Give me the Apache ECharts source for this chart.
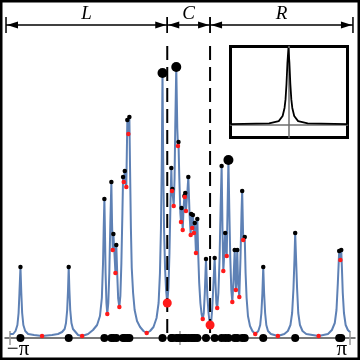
<!DOCTYPE html>
<html>
<head>
<meta charset="utf-8">
<script src="https://cdn.jsdelivr.net/npm/echarts@6/dist/echarts.min.js"></script>
<style>
  html, body { margin: 0; padding: 0; background: #fff; }
  #chart { width: 360px; height: 360px; }
</style>
</head>
<body>
<div id="chart"></div>
<script>
// x is in units of pi, y is the curve height
const curve = [
  [-1.000,4],[-0.982,4],[-0.968,7],[-0.957,13],[-0.950,25],[-0.945,45],[-0.939,71],[-0.934,45],[-0.929,25],
  [-0.922,13],[-0.911,7],[-0.894,4],[-0.859,3],[-0.812,2],[-0.753,3],[-0.718,4],[-0.694,6],[-0.679,9],
  [-0.671,15],[-0.664,28],[-0.659,48],[-0.655,71],[-0.651,48],[-0.646,28],[-0.639,15],[-0.630,9],[-0.615,6],
  [-0.600,3],[-0.576,2],[-0.541,4],[-0.512,8],[-0.488,13],[-0.471,22],[-0.460,40],[-0.453,75],[-0.449,110],
  [-0.445,139],[-0.442,110],[-0.438,65],[-0.433,35],[-0.428,24],[-0.422,35],[-0.416,65],[-0.410,115],
  [-0.404,156],[-0.400,115],[-0.396,88],[-0.392,104],[-0.386,85],[-0.380,65],[-0.375,93],[-0.369,62],
  [-0.364,40],[-0.357,31],[-0.351,42],[-0.345,75],[-0.339,125],[-0.335,161],[-0.331,156],[-0.325,167],
  [-0.321,155],[-0.316,151],[-0.310,218],[-0.304,204],[-0.298,221],[-0.294,170],[-0.289,110],[-0.284,70],
  [-0.276,45],[-0.267,28],[-0.253,17],[-0.235,11],[-0.215,7],[-0.196,5],[-0.176,7],[-0.156,11],[-0.138,20],
  [-0.126,35],[-0.118,65],[-0.112,110],[-0.107,180],[-0.103,265],[-0.099,180],[-0.094,110],[-0.088,70],
  [-0.082,48],[-0.075,35],[-0.068,50],[-0.062,85],[-0.056,135],[-0.051,170],[-0.048,150],[-0.047,147],
  [-0.045,149],[-0.041,140],[-0.037,132],[-0.032,160],[-0.028,210],[-0.022,271],[-0.016,210],[-0.012,192],
  [-0.009,196],[-0.004,160],[0.002,125],[0.006,116],[0.009,130],[0.016,108],[0.021,130],[0.026,142],
  [0.028,141],[0.031,145],[0.035,127],[0.043,145],[0.049,161],[0.056,125],[0.063,103],[0.066,124],
  [0.072,110],[0.076,123],[0.082,105],[0.087,115],[0.094,85],[0.102,119],[0.107,85],[0.113,55],[0.120,35],
  [0.127,24],[0.134,19],[0.140,25],[0.146,45],[0.150,65],[0.153,79],[0.156,65],[0.161,42],[0.168,25],
  [0.174,16],[0.177,13],[0.184,17],[0.190,30],[0.197,55],[0.204,80],[0.209,55],[0.214,35],[0.219,30],
  [0.226,45],[0.233,80],[0.239,130],[0.245,172],[0.250,110],[0.255,67],[0.261,85],[0.266,105],[0.271,90],
  [0.275,82],[0.280,130],[0.285,178],[0.290,130],[0.296,80],[0.302,48],[0.308,36],[0.314,55],[0.322,88],
  [0.326,62],[0.329,48],[0.333,62],[0.337,88],[0.342,55],[0.349,41],[0.356,80],[0.362,125],[0.366,147],
  [0.372,98],[0.381,101],[0.386,65],[0.392,40],[0.400,22],[0.412,12],[0.426,7],[0.443,4],[0.461,7],
  [0.472,13],[0.479,25],[0.485,45],[0.490,71],[0.495,45],[0.501,25],[0.508,13],[0.518,7],[0.535,4],
  [0.576,2],[0.614,4],[0.635,7],[0.650,13],[0.660,25],[0.668,50],[0.674,80],[0.678,105],[0.683,80],
  [0.689,50],[0.696,25],[0.706,13],[0.721,7],[0.743,4],[0.816,2],[0.871,4],[0.894,8],[0.911,15],
  [0.921,28],[0.929,55],[0.934,75],[0.937,87],[0.944,78],[0.949,88],[0.953,70],[0.958,45],[0.965,25],
  [0.975,13],[0.988,8],[1.000,6]
];

// local maxima (black) and minima (red)
const peakX = [-0.939,-0.655,-0.445,-0.404,-0.392,-0.375,-0.335,-0.325,-0.310,-0.298,
  -0.103,-0.051,-0.045,-0.022,-0.009,0.009,0.026,0.031,0.049,0.066,
  0.076,0.087,0.102,0.153,0.204,0.245,0.266,0.285,0.322,0.337,
  0.366,0.381,0.490,0.678,0.937,0.949];
const peakY = [71,71,139,156,104,93,161,167,218,221,
  265,170,149,271,196,130,142,145,161,124,
  123,115,119,79,80,172,105,178,88,88,
  147,101,71,105,87,88];
const bigPeakX = [-0.103, -0.022, 0.285];

const dipX = [-0.812,-0.576,-0.428,-0.396,-0.380,-0.357,-0.331,-0.316,-0.304,-0.196,
  -0.075,-0.047,-0.037,-0.012,0.006,0.016,0.028,0.035,0.063,0.072,
  0.082,0.094,0.134,0.177,0.219,0.255,0.275,0.308,0.329,0.349,
  0.372,0.443,0.576,0.816,0.944];
const dipY = [2,2,24,88,65,31,156,151,204,5,
  35,147,132,192,116,108,141,127,103,110,
  105,85,19,13,30,67,82,36,48,41,
  98,4,2,2,78];
const bigDipX = [-0.075, 0.177];

const regionEdges = [-1.024, -0.075, 0.177, 1.018];
const regionNames = ["L", "C", "R"];
const arrowLevel = 313;
const dashTop = 292;

const insetX = [-1, -0.333, -0.167, -0.1, -0.067, -0.05, -0.033, -0.017, 0, 0.017, 0.033, 0.05, 0.067, 0.1, 0.167, 0.333, 1.02];
const insetY = [0.001, 0.011, 0.041, 0.107, 0.21, 0.32, 0.52, 0.79, 0.98, 0.79, 0.52, 0.32, 0.21, 0.107, 0.041, 0.011, 0.001];

const chart = echarts.init(document.getElementById("chart"));

const regions = regionNames.map((n, i) => [regionEdges[i], regionEdges[i + 1]]);

function renderRegion(params, api) {
  const a = api.coord([api.value(0), arrowLevel]);
  const b = api.coord([api.value(1), arrowLevel]);
  const y = a[1];
  const head = 12, half = 3.5, tick = 8;
  const ink = { stroke: "#000", lineWidth: 1.3 };
  return {
    type: "group",
    children: [
      { type: "line", shape: { x1: a[0], y1: y, x2: b[0], y2: y }, style: ink },
      { type: "polygon", shape: { points: [[a[0] + 1, y], [a[0] + head, y - half], [a[0] + head, y + half]] }, style: { fill: "#000" } },
      { type: "polygon", shape: { points: [[b[0] - 1, y], [b[0] - head, y - half], [b[0] - head, y + half]] }, style: { fill: "#000" } },
      { type: "line", shape: { x1: a[0], y1: y - tick, x2: a[0], y2: y + tick }, style: { stroke: "#000", lineWidth: 1.5 } },
      { type: "line", shape: { x1: b[0], y1: y - tick, x2: b[0], y2: y + tick }, style: { stroke: "#000", lineWidth: 1.5 } },
      {
        type: "text",
        style: {
          text: regionNames[params.dataIndex],
          x: (a[0] + b[0]) / 2,
          y: y - 2,
          align: "center",
          verticalAlign: "bottom",
          font: 'italic 19px "Liberation Serif"',
          fill: "#000",
        },
      },
    ],
  };
}

function renderDash(params, api) {
  const top = api.coord([api.value(0), dashTop]);
  const bottom = api.coord([api.value(0), 0]);
  return {
    type: "line",
    shape: { x1: top[0], y1: top[1], x2: bottom[0], y2: bottom[1] },
    style: { stroke: "#000", lineWidth: 2, lineDash: [14, 7] },
  };
}

chart.setOption({
  animation: false,
  backgroundColor: "#fff",
  grid: [
    { left: 5, right: 5, top: 0, bottom: 22 },
    { left: 230.5, top: 46.5, width: 117, height: 91, show: true, borderColor: "#000", borderWidth: 3, backgroundColor: "#fff" },
  ],
  xAxis: [
    {
      gridIndex: 0,
      type: "value",
      min: -1.03,
      max: 1.03,
      splitLine: { show: false },
      axisLine: { lineStyle: { color: "#4d4d4d", width: 1.5 } },
      axisTick: { customValues: [-1, 0, 1], length: 7, lineStyle: { color: "#999", width: 1.5 } },
      axisLabel: {
        customValues: [-1, 1],
        formatter: (v) => (v < 0 ? "−π" : "π"),
        fontFamily: "Liberation Serif",
        fontSize: 21,
        color: "#000",
        margin: 1,
        alignMinLabel: "center",
        alignMaxLabel: "center",
        padding: [0, 0, 0, 0],
        rich: {},
      },
    },
    {
      gridIndex: 0,
      type: "value",
      min: -1.03,
      max: 1.03,
      position: "bottom",
      splitLine: { show: false },
      axisLine: { show: false },
      axisTick: { inside: true, customValues: [-1, 0, 1], length: 7, lineStyle: { color: "#999", width: 1.5 } },
      axisLabel: { show: false },
    },
    {
      gridIndex: 1,
      type: "value",
      min: -1,
      max: 1.02,
      splitLine: { show: false },
      axisLine: { onZero: true, lineStyle: { color: "#6e6e6e", width: 1.5 } },
      axisTick: { show: false },
      axisLabel: { show: false },
    },
  ],
  yAxis: [
    { gridIndex: 0, type: "value", min: 0, max: 338, show: false },
    {
      gridIndex: 1,
      type: "value",
      min: -0.17,
      max: 1,
      splitLine: { show: false },
      axisLine: { show: true, onZero: true, lineStyle: { color: "#6e6e6e", width: 1.5 } },
      axisTick: { show: false },
      axisLabel: { show: false },
    },
  ],
  series: [
    {
      type: "line",
      xAxisIndex: 0,
      yAxisIndex: 0,
      data: curve,
      showSymbol: false,
      lineStyle: { color: "#5e81b5", width: 2 },
      z: 2,
    },
    {
      type: "custom",
      xAxisIndex: 0,
      yAxisIndex: 0,
      data: bigDipX.map((x) => [x, 0]),
      renderItem: renderDash,
      z: 3,
    },
    {
      type: "custom",
      xAxisIndex: 0,
      yAxisIndex: 0,
      data: regions,
      renderItem: renderRegion,
      z: 3,
    },
    {
      type: "scatter",
      xAxisIndex: 0,
      yAxisIndex: 0,
      data: peakX.map((x) => [x, 0]),
      symbolSize: 8,
      itemStyle: { color: "#000", opacity: 1 },
      z: 5,
    },
    {
      type: "scatter",
      xAxisIndex: 0,
      yAxisIndex: 0,
      data: peakX.map((x, i) => ({ value: [x, peakY[i]], symbolSize: bigPeakX.includes(x) ? 10 : 4.5 })),
      itemStyle: { color: "#000", opacity: 1 },
      z: 5,
    },
    {
      type: "scatter",
      xAxisIndex: 0,
      yAxisIndex: 0,
      data: dipX.map((x, i) => ({ value: [x, dipY[i]], symbolSize: bigDipX.includes(x) ? 9 : 4.5 })),
      itemStyle: { color: "#ff1a1a", opacity: 1 },
      z: 5,
    },
    {
      type: "line",
      xAxisIndex: 2,
      yAxisIndex: 1,
      data: insetX.map((x, i) => [x, insetY[i]]),
      showSymbol: false,
      lineStyle: { color: "#000", width: 1.8 },
      z: 4,
    },
  ],
  graphic: [
    {
      type: "rect",
      shape: { x: 1, y: 1, width: 358, height: 358 },
      style: { fill: "none", stroke: "#000", lineWidth: 3 },
      z: 100,
    },
  ],
});

// nudge the end labels inward, like the reference
chart.setOption({
  xAxis: [{ axisLabel: { formatter: (v) => (v < 0 ? "{l|−π}" : "{r|π}"), rich: { l: { padding: [0, 0, 0, 16] }, r: { padding: [0, 16, 0, 0] } } } }],
});
</script>
</body>
</html>
